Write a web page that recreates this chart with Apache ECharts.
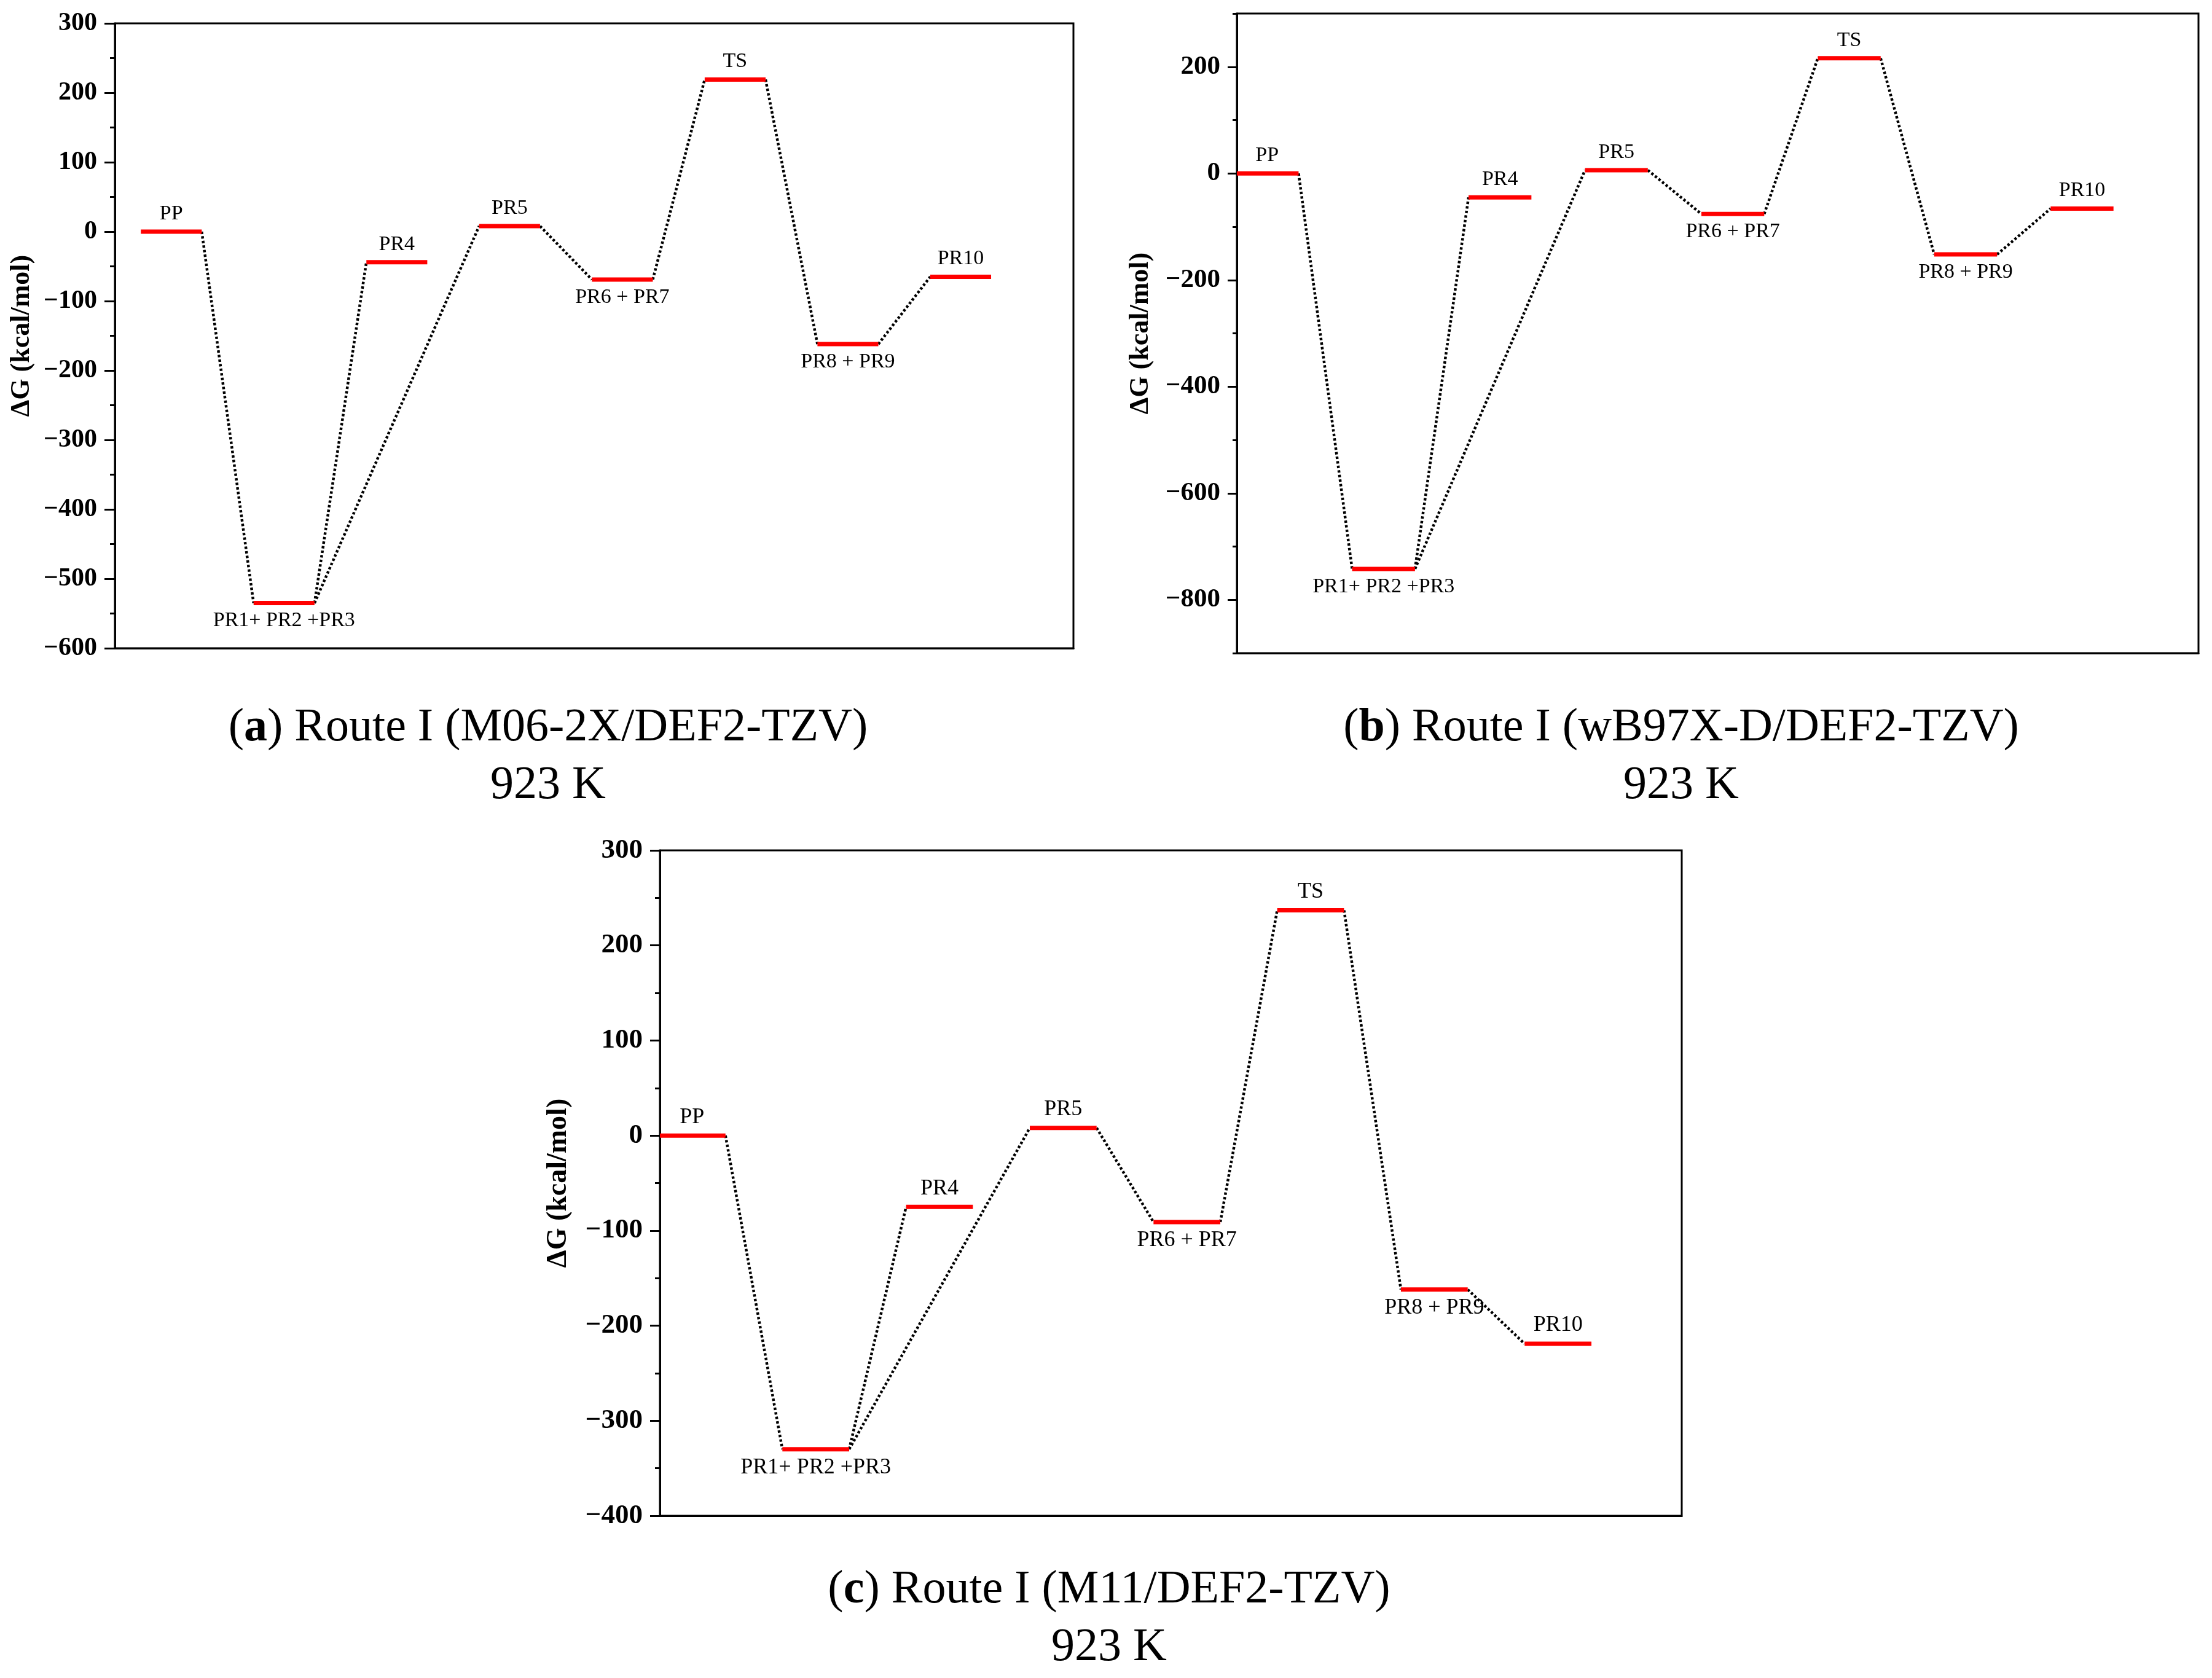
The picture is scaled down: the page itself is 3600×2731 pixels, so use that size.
<!DOCTYPE html>
<html>
<head>
<meta charset="utf-8">
<script src="https://cdn.jsdelivr.net/npm/echarts@6/dist/echarts.min.js"></script>
<style>
  html, body { margin: 0; padding: 0; background: #fff; }
  #chart { width: 3600px; height: 2731px; }
</style>
</head>
<body>
<div id="chart"></div>
<script>
// 能级名称（三个子图相同）
var levelNames = ['PP', 'PR1+ PR2 +PR3', 'PR4', 'PR5', 'PR6 + PR7', 'TS', 'PR8 + PR9', 'PR10'];
// 哪些标签放在能级线下面
var labelBelow = [1, 4, 6];
// 连接关系 [起点, 终点]
var links = [[0, 1], [1, 2], [1, 3], [3, 4], [4, 5], [5, 6], [6, 7]];

// ΔG 数值 (kcal/mol)
var valuesA = [0, -535, -44, 8, -69, 219, -162, -65];
var valuesB = [0, -742, -45, 6, -76, 216, -152, -66];
var valuesC = [0, -330, -75, 8, -91, 237, -162, -219];

// 纵轴刻度
var ticksA = [-600, -500, -400, -300, -200, -100, 0, 100, 200, 300];
var ticksB = [-800, -600, -400, -200, 0, 200];
var ticksC = [-400, -300, -200, -100, 0, 100, 200, 300];

var FONT = "'Liberation Serif', 'Times New Roman', serif";
var HW = 0.27;   // 能级线半宽

var chart = echarts.init(document.getElementById('chart'));

function fmt(v) { return v < 0 ? '\u2212' + (-v) : String(v); }

// 红色能级线 + 标签
function levelSeries(vals, idx, fontSize) {
  return {
    type: 'custom', xAxisIndex: idx, yAxisIndex: idx, clip: true,
    data: vals.map(function (v, i) { return [i + 0.5, v]; }),
    encode: { x: 0, y: 1 },
    renderItem: function (params, api) {
      var i = params.dataIndex;
      var x = api.value(0), v = api.value(1);
      var a = api.coord([x - HW, v]), b = api.coord([x + HW, v]);
      var below = labelBelow.indexOf(i) >= 0;
      return {
        type: 'group',
        children: [
          { type: 'line', shape: { x1: a[0], y1: a[1], x2: b[0], y2: b[1] },
            style: { stroke: '#ff0000', lineWidth: 7 } },
          { type: 'text', x: (a[0] + b[0]) / 2, y: a[1] + (below ? 12 : -12),
            style: { text: levelNames[i], fill: '#000', fontFamily: FONT, fontSize: fontSize,
                     align: 'center', verticalAlign: below ? 'top' : 'bottom' } }
        ]
      };
    }
  };
}

// 黑色点线连接
function linkSeries(vals, idx) {
  return {
    type: 'custom', xAxisIndex: idx, yAxisIndex: idx, clip: true,
    data: links.map(function (l) {
      return [l[0] + 0.5 + HW, vals[l[0]], l[1] + 0.5 - HW, vals[l[1]]];
    }),
    encode: { x: [0, 2], y: [1, 3] },
    renderItem: function (params, api) {
      var p1 = api.coord([api.value(0), api.value(1)]);
      var p2 = api.coord([api.value(2), api.value(3)]);
      return { type: 'line', shape: { x1: p1[0], y1: p1[1], x2: p2[0], y2: p2[1] },
               style: { stroke: '#000', lineWidth: 4.5, lineDash: [4, 3.5] } };
    }
  };
}

function xAxis(idx, min) {
  return {
    gridIndex: idx, type: 'value', min: min, max: 8.5,
    axisLine: { show: true, onZero: false, lineStyle: { color: '#000', width: 3 } },
    axisTick: { show: false }, axisLabel: { show: false }, splitLine: { show: false }
  };
}

function yAxis(idx, min, max, ticks, opt) {
  return {
    gridIndex: idx, type: 'value', position: 'left', min: min, max: max, interval: 100,
    axisLine: { show: true, onZero: false, lineStyle: { color: '#000', width: 3 } },
    axisTick: { show: true, length: opt.tick, customValues: ticks, lineStyle: { color: '#000', width: 3 } },
    minorTick: { show: opt.minor, splitNumber: 2, length: 8, lineStyle: { color: '#000', width: 3 } },
    splitLine: { show: false }, minorSplitLine: { show: false },
    axisLabel: { margin: opt.margin, customValues: ticks, formatter: fmt, color: '#000',
                 fontFamily: FONT, fontWeight: 'bold', fontSize: opt.labelSize },
    name: '\u0394G (kcal/mol)', nameLocation: 'middle', nameGap: opt.nameGap,
    nameTextStyle: { color: '#000', fontFamily: FONT, fontWeight: 'bold', fontSize: opt.nameSize }
  };
}

function caption(x, y, letter, text) {
  return {
    type: 'text', x: x, y: y,
    style: {
      text: '{n|(}{b|' + letter + '}{n|) ' + text + '}\n{n|923 K}',
      fill: '#000', fontFamily: FONT, fontSize: 76, lineHeight: 94,
      align: 'center', verticalAlign: 'middle',
      rich: {
        n: { fontFamily: FONT, fontSize: 76, lineHeight: 94, fill: '#000' },
        b: { fontFamily: FONT, fontSize: 76, lineHeight: 94, fontWeight: 'bold', fill: '#000' }
      }
    }
  };
}

var gridStyle = { show: true, borderColor: '#000', borderWidth: 3, backgroundColor: '#fff' };

var option = {
  backgroundColor: '#fff',
  animation: false,
  grid: [
    Object.assign({ left: 187, top: 38, width: 1560, height: 1017 }, gridStyle),
    Object.assign({ left: 2013, top: 22, width: 1565, height: 1041 }, gridStyle),
    Object.assign({ left: 1074, top: 1384, width: 1663, height: 1083 }, gridStyle)
  ],
  xAxis: [xAxis(0, 0), xAxis(1, 0.24), xAxis(2, 0.24)],
  yAxis: [
    yAxis(0, -600, 300, ticksA, { tick: 17, minor: true, margin: 29, labelSize: 42, nameGap: 129, nameSize: 44 }),
    yAxis(1, -900, 300, ticksB, { tick: 15, minor: false, margin: 27, labelSize: 43, nameGap: 134, nameSize: 44 }),
    yAxis(2, -400, 300, ticksC, { tick: 16, minor: true, margin: 28, labelSize: 45, nameGap: 142, nameSize: 46 }),
    // (b) 的短刻度
    { gridIndex: 1, type: 'value', position: 'left', min: -900, max: 300, interval: 100,
      axisLine: { show: false, onZero: false }, axisLabel: { show: false }, splitLine: { show: false },
      axisTick: { show: true, length: 7, lineStyle: { color: '#000', width: 3 } } }
  ],
  series: [
    linkSeries(valuesA, 0), levelSeries(valuesA, 0, 34),
    linkSeries(valuesB, 1), levelSeries(valuesB, 1, 34),
    linkSeries(valuesC, 2), levelSeries(valuesC, 2, 36)
  ],
  graphic: [
    caption(892, 1232, 'a', 'Route I (M06-2X/DEF2-TZV)'),
    caption(2736, 1232, 'b', 'Route I (wB97X-D/DEF2-TZV)'),
    caption(1805, 2635, 'c', 'Route I (M11/DEF2-TZV)')
  ]
};

chart.setOption(option);
</script>
</body>
</html>
